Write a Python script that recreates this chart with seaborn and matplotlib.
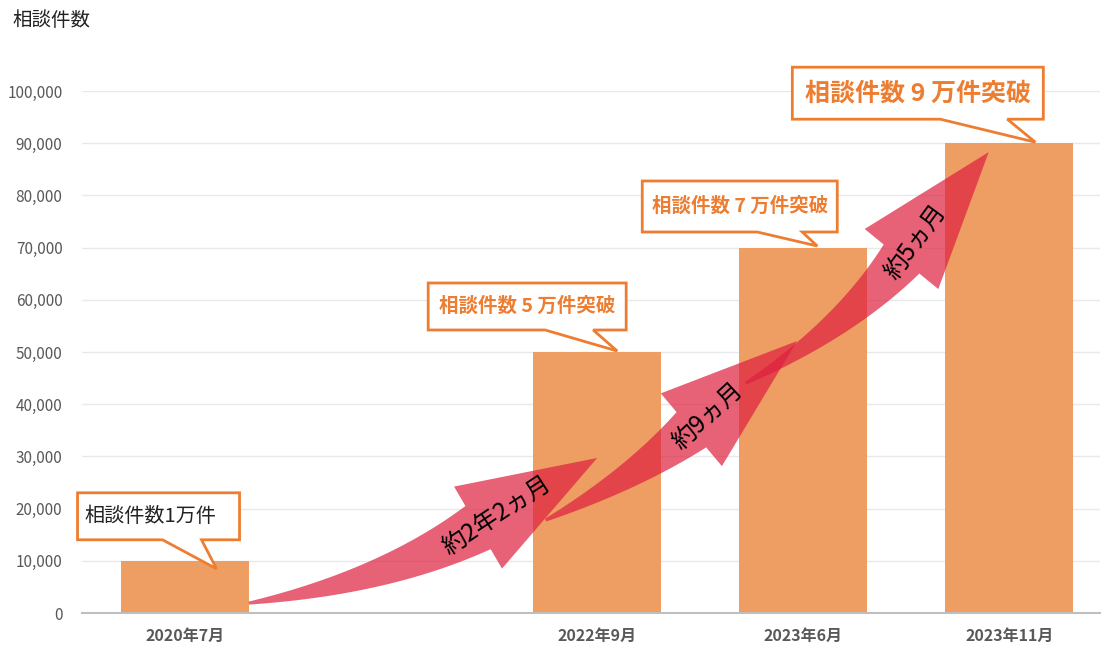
import matplotlib
matplotlib.use("Agg")
import matplotlib.pyplot as plt
from matplotlib.patches import Polygon
from matplotlib.ticker import MultipleLocator, FuncFormatter
from matplotlib.transforms import IdentityTransform
import numpy as np
import pandas as pd
import seaborn as sns

# data
periods = ["2020年7月", "2022年9月", "2023年6月", "2023年11月"]
counts = [10000, 50000, 70000, 90000]
# the time axis keeps an empty slot between 2020 and 2022
slot_order = ["2020年7月", " ", "2022年9月", "2023年6月", "2023年11月"]
callout_texts = ["相談件数1万件", "相談件数 5 万件突破", "相談件数 7 万件突破", "相談件数 9 万件突破"]
span_labels = ["約2年2ヵ月", "約9ヵ月", "約5ヵ月"]
# arrows: (slot position, count) at the tail and at the tip
arrow_starts = [(0.31, 1900), (1.75, 17800), (2.72, 44000)]
arrow_ends = [(2.0, 29700), (2.97, 52100), (3.9, 88300)]

ORANGE = "#ED7D31"
BAR = "#EE9D63"
PINK = "#DE1F3E"

sns.set_style("white")
plt.rcParams['font.family'] = ['Noto Sans CJK JP', 'DejaVu Sans']

fig = plt.figure(figsize=(11.05, 6.46), dpi=100)
ax = fig.add_axes([82 / 1105, 33 / 646, 1018 / 1105, 522 / 646])

df = pd.DataFrame({"period": periods, "count": counts})
sns.barplot(data=df, x="period", y="count", order=slot_order, color=BAR,
            saturation=1, width=0.62, errorbar=None, linewidth=0, ax=ax)

ax.set_xlim(-0.5, 4.44)
ax.set_ylim(0, 100000)
ax.yaxis.set_major_locator(MultipleLocator(10000))
ax.yaxis.set_major_formatter(FuncFormatter(lambda v, p: f"{int(v):,}"))
ax.grid(axis="y", color="#E9E9E9", lw=1)
ax.set_axisbelow(True)
for s in ["top", "right", "left"]:
    ax.spines[s].set_visible(False)
ax.spines["bottom"].set_color("#BFBFBF")
ax.spines["bottom"].set_linewidth(1.5)
ax.tick_params(axis="both", length=0)
ax.tick_params(axis="y", labelsize=11, labelcolor="#595959", pad=14)
ax.tick_params(axis="x", labelsize=11.5, labelcolor="#595959", pad=11)
for lbl in ax.get_xticklabels():
    lbl.set_fontweight("bold")
ax.set_xlabel("")
ax.set_ylabel("")

fig.text(12 / 1105, 1 - 20 / 646, "相談件数", fontsize=14, ha="left", va="center", color="#222222")

to_disp = ax.transData.transform
pos_of = {p: slot_order.index(p) for p in periods}


def draw_arrow(start, end, angle, label, head_len=138, head_w=95, body_w=48, tail_w=3):
    S = to_disp(start)
    T = to_disp(end)
    a = np.radians(angle)
    d = np.array([np.cos(a), np.sin(a)])
    nrm = np.array([-np.sin(a), np.cos(a)])
    B = T - head_len * d
    C = B - 0.45 * np.linalg.norm(B - S) * d
    t = np.linspace(0, 1, 80)[:, None]
    P = (1 - t) ** 2 * S + 2 * (1 - t) * t * C + t ** 2 * B
    dP = 2 * (1 - t) * (C - S) + 2 * t * (B - C)
    dP = dP / np.linalg.norm(dP, axis=1)[:, None]
    nn = np.column_stack([-dP[:, 1], dP[:, 0]])
    w = tail_w + (body_w - tail_w) * t
    upper = P + nn * w / 2
    lower = P - nn * w / 2
    pts = np.vstack([upper, B + nrm * head_w / 2, T, B - nrm * head_w / 2, lower[::-1]])
    ax.add_patch(Polygon(pts, closed=True, transform=IdentityTransform(),
                         facecolor=PINK, edgecolor="none", alpha=0.7, zorder=3, clip_on=False))
    lp = B + 22 * d
    ax.text(lp[0], lp[1], label, transform=IdentityTransform(), rotation=angle + 3,
            rotation_mode="anchor", ha="center", va="center", fontsize=17.5, color="black", zorder=4)


draw_arrow(arrow_starts[0], arrow_ends[0], 30.3, span_labels[0], body_w=50)
draw_arrow(arrow_starts[1], arrow_ends[1], 40, span_labels[1], body_w=46)
draw_arrow(arrow_starts[2], arrow_ends[2], 50.8, span_labels[2], body_w=46)


def callout(period, value, text, shift, box, tail, color, weight, size, text_dx=0):
    tip = to_disp((pos_of[period], value)) + np.array(shift)
    L, R, top, bot = box
    x0, x1 = tail
    tx, ty = tip
    pts = [(tx + L, ty + bot), (tx + x0, ty + bot), (tx, ty), (tx + x1, ty + bot),
           (tx + R, ty + bot), (tx + R, ty + top), (tx + L, ty + top)]
    ax.add_patch(Polygon(pts, closed=True, transform=IdentityTransform(), facecolor="white",
                         edgecolor=ORANGE, lw=2, joinstyle="miter", zorder=5, clip_on=False))
    ax.text(tx + (L + R) / 2 + text_dx, ty + (top + bot) / 2, text, transform=IdentityTransform(),
            ha="center", va="center", fontsize=size, color=color, fontweight=weight, zorder=6)


callout(periods[0], counts[0], callout_texts[0], (31.5, -8), (-139, 23, 76, 29), (-54, -15), "#222222", "normal", 14.5, -8)
callout(periods[1], counts[1], callout_texts[1], (20, 1), (-189, 9, 68, 21), (-72, -24), ORANGE, "bold", 14)
callout(periods[2], counts[2], callout_texts[2], (14, 1.6), (-175, 20, 65, 14), (-60, -15), ORANGE, "bold", 14)
callout(periods[3], counts[3], callout_texts[3], (26, 1), (-243, 8, 75, 23), (-95, -28), ORANGE, "bold", 18)

fig.savefig("out.png", dpi=100)
